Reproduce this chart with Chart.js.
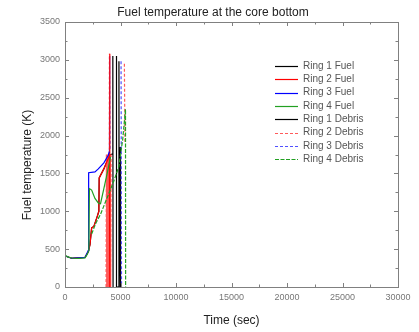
<!DOCTYPE html>
<html>
<head>
<meta charset="utf-8">
<script src="https://cdn.jsdelivr.net/npm/chart.js@4/dist/chart.umd.min.js"></script>
<style>
  html, body { margin: 0; padding: 0; background: #fff; }
  #wrap { width: 419px; height: 332px; }
</style>
</head>
<body>
<div id="wrap"><canvas id="chart" width="419" height="332"></canvas></div>
<script>
// Series (time in sec, temperature in K). null = break in the line.
const ring1FuelT = [0, 600, 1800, 2100, 2250, 2400, 2600, 2900, 3050, 3080, 3500, 3900, 4000, 4300, 4310, 4330];
const ring1FuelK = [410, 380, 390, 470, 560, 780, 800, 930, 1000, 1440, 1560, 1700, 1740, 1760, 3050, 0];

const ring2FuelT = [0, 600, 1800, 2100, 2250, 2400, 2600, 2900, 3050, 3080, 3500, 3900, 4000, 4020, 4050];
const ring2FuelK = [410, 380, 390, 470, 560, 780, 800, 930, 1000, 1440, 1560, 1700, 1740, 3080, 0];

const ring3FuelT = [0, 10, 600, 1800, 2100, 2130, 2700, 3000, 3500, 3900, 4000];
const ring3FuelK = [880, 410, 380, 390, 480, 1510, 1520, 1560, 1640, 1740, 1790];

const ring4FuelT = [0, 300, 700, 1200, 1800, 2000, 2150, 2200, 2400, 2700, 3000, 3200, 3500, 3800, 4100];
const ring4FuelK = [420, 395, 380, 378, 385, 430, 480, 1300, 1280, 1170, 1110, 1100, 1300, 1500, 1720];

const ring1DebrisT = [4620, 4630, 4650, 4850, 4860, 4880, 4980, 5000];
const ring1DebrisK = [0, 3050, 0, 0, 2980, 0, 1850, 0];

const ring2DebrisT = [3700, 3730, 3760, 3790, 3820, 3850, 3880, 3910, 3940, 3970, 4000, 4030, 4060, 4090, 4120, 4150,
                      4160, 3990, 4000, 4010, 5350, 5400];
const ring2DebrisK = [0, 1750, 0, 1750, 0, 1750, 0, 1750, 0, 1750, 0, 1750, 0, 1750, 0, 1750,
                      null, 1750, 3080, null, 2950, 1900];

const ring3DebrisT = [4000, 4030, 4060, 4500, 5050, 5070, 5090];
const ring3DebrisK = [1790, 3050, 1800, null, 2980, 1800, 0];

const ring4DebrisT = [2400, 2800, 3200, 3800, 4400, 4850, 5200, 5450, 5460];
const ring4DebrisK = [700, 850, 960, 1180, 1400, 1590, 1950, 2350, 0];

const xTicks = [0, 5000, 10000, 15000, 20000, 25000, 30000];
const yTicks = [0, 500, 1000, 1500, 2000, 2500, 3000, 3500];

function pts(ts, ks) {
  return ts.map((t, i) => ({ x: t, y: ks[i] }));
}

function series(label, ts, ks, color, dash, order) {
  return {
    label: label,
    data: pts(ts, ks),
    borderColor: color,
    backgroundColor: color,
    borderWidth: 1.2,
    borderDash: dash,
    pointRadius: 0,
    showLine: true,
    spanGaps: false,
    tension: 0,
    order: order
  };
}

const GREEN = '#22a022';
const FONT = '"Liberation Sans", Arial, sans-serif';

const datasets = [
  series('Ring 1 Fuel', ring1FuelT, ring1FuelK, '#000000', [], 6),
  series('Ring 2 Fuel', ring2FuelT, ring2FuelK, '#ff0000', [], 3),
  series('Ring 3 Fuel', ring3FuelT, ring3FuelK, '#0000ff', [], 2),
  series('Ring 4 Fuel', ring4FuelT, ring4FuelK, GREEN, [], 0),
  series('Ring 1 Debris', ring1DebrisT, ring1DebrisK, '#000000', [], 7),
  series('Ring 2 Debris', ring2DebrisT, ring2DebrisK, '#ff5a5a', [3, 2], 5),
  series('Ring 3 Debris', ring3DebrisT, ring3DebrisK, '#5050ff', [3, 2], 4),
  series('Ring 4 Debris', ring4DebrisT, ring4DebrisK, GREEN, [4, 1.5], 1)
];

// frame, inward ticks, titles and legend
const decor = {
  id: 'decor',
  afterDraw(chart) {
    const ctx = chart.ctx;
    const a = chart.chartArea;
    const xs = chart.scales.x, ys = chart.scales.y;
    ctx.save();
    ctx.strokeStyle = '#808080';
    ctx.lineWidth = 1;
    ctx.strokeRect(Math.round(a.left) + 0.5, Math.round(a.top) + 0.5,
                   Math.round(a.right - a.left), Math.round(a.bottom - a.top));
    ctx.beginPath();
    for (let v = 0; v <= 30000; v += 2500) {
      const px = Math.round(xs.getPixelForValue(v)) + 0.5;
      const len = v % 5000 === 0 ? 4 : 2.5;
      ctx.moveTo(px, a.bottom); ctx.lineTo(px, a.bottom - len);
      ctx.moveTo(px, a.top); ctx.lineTo(px, a.top + len);
    }
    for (let v = 0; v <= 3500; v += 250) {
      const py = Math.round(ys.getPixelForValue(v)) + 0.5;
      const len = v % 500 === 0 ? 4 : 2.5;
      ctx.moveTo(a.left, py); ctx.lineTo(a.left + len, py);
      ctx.moveTo(a.right, py); ctx.lineTo(a.right - len, py);
    }
    ctx.stroke();

    // titles
    ctx.fillStyle = '#222';
    ctx.textAlign = 'center';
    ctx.textBaseline = 'middle';
    ctx.font = '12px ' + FONT;
    ctx.fillText('Fuel temperature at the core bottom', 213, 13);
    ctx.fillText('Time (sec)', (a.left + a.right) / 2, 321);
    ctx.save();
    ctx.translate(28, 165);
    ctx.rotate(-Math.PI / 2);
    ctx.fillText('Fuel temperature (K)', 0, 0);
    ctx.restore();

    // legend
    ctx.font = '10px ' + FONT;
    ctx.textAlign = 'left';
    chart.data.datasets.forEach((ds, i) => {
      const y = 66 + i * 13.3;
      ctx.strokeStyle = ds.borderColor;
      ctx.lineWidth = 1.2;
      ctx.setLineDash(ds.borderDash);
      ctx.beginPath();
      ctx.moveTo(275, Math.round(y) + 0.5);
      ctx.lineTo(298, Math.round(y) + 0.5);
      ctx.stroke();
      ctx.setLineDash([]);
      ctx.fillStyle = '#555';
      ctx.fillText(ds.label, 303, y);
    });
    ctx.restore();
  }
};

new Chart(document.getElementById('chart'), {
  type: 'scatter',
  data: { datasets: datasets },
  options: {
    responsive: false,
    animation: false,
    layout: { padding: { top: 22, right: 21, left: 0, bottom: 0 } },
    plugins: {
      legend: { display: false },
      title: { display: false },
      tooltip: { enabled: false }
    },
    scales: {
      x: {
        type: 'linear',
        min: 0,
        max: 30000,
        afterBuildTicks: (s) => { s.ticks = xTicks.map(v => ({ value: v })); },
        afterFit: (s) => { s.height = 45; },
        grid: { display: false, drawTicks: false, tickLength: 0 },
        border: { display: false },
        ticks: {
          padding: 5,
          color: '#777',
          font: { size: 9, family: FONT },
          maxRotation: 0,
          callback: (v) => String(v)
        }
      },
      y: {
        type: 'linear',
        min: 0,
        max: 3500,
        afterBuildTicks: (s) => { s.ticks = yTicks.map(v => ({ value: v })); },
        afterFit: (s) => { s.width = 65; },
        grid: { display: false, drawTicks: false, tickLength: 0 },
        border: { display: false },
        ticks: {
          padding: 5,
          color: '#777',
          font: { size: 9, family: FONT },
          callback: (v) => String(v)
        }
      }
    }
  },
  plugins: [decor]
});
</script>
</body>
</html>
